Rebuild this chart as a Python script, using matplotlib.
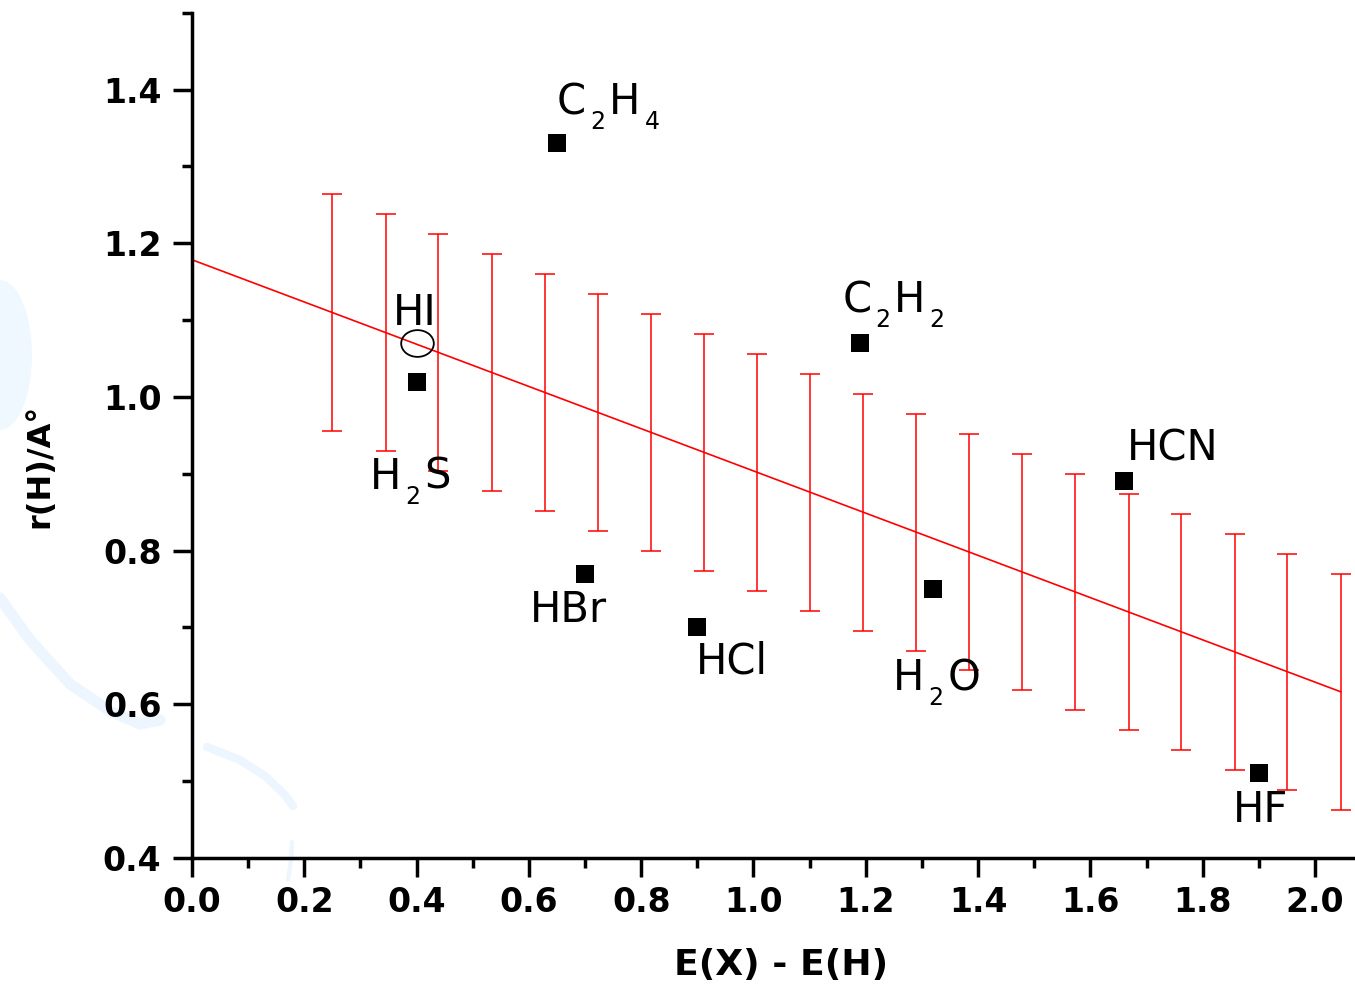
import matplotlib
matplotlib.use("Agg")
import matplotlib.pyplot as plt
from matplotlib.ticker import MultipleLocator, FormatStrFormatter
from matplotlib.lines import Line2D
from matplotlib.patches import Ellipse
from matplotlib.path import Path
import numpy as np

# ---------------- data ----------------
filled_names = ['C2H4', 'H2S', 'HBr', 'HCl', 'C2H2', 'H2O', 'HCN', 'HF']
filled_x = [0.65, 0.40, 0.70, 0.90, 1.19, 1.32, 1.66, 1.90]
filled_y = [1.33, 1.02, 0.77, 0.70, 1.07, 0.75, 0.89, 0.51]

open_names = ['HI']
open_x = [0.40]
open_y = [1.07]

# fitted line
fit_intercept = 1.1785
fit_slope = -0.2748
fit_x_range = [0.0, 2.046]

# error bars along the fit
err_x = [0.250, 0.345, 0.439, 0.534, 0.628, 0.723, 0.817, 0.912, 1.006, 1.101,
         1.195, 1.290, 1.384, 1.479, 1.573, 1.668, 1.762, 1.857, 1.951, 2.046]
err_y = [1.110, 1.084, 1.058, 1.032, 1.006, 0.980, 0.954, 0.928, 0.902, 0.876,
         0.850, 0.824, 0.798, 0.772, 0.746, 0.720, 0.694, 0.668, 0.642, 0.616]
err_half = 0.154

# label text pieces: (text, is_subscript)
label_pieces = {
    'C2H4': [('C', False), ('2', True), ('H', False), ('4', True)],
    'C2H2': [('C', False), ('2', True), ('H', False), ('2', True)],
    'HI':   [('HI', False)],
    'H2S':  [('H', False), ('2', True), ('S', False)],
    'HBr':  [('HBr', False)],
    'HCl':  [('HCl', False)],
    'H2O':  [('H', False), ('2', True), ('O', False)],
    'HCN':  [('HCN', False)],
    'HF':   [('HF', False)],
}

x_ticks = [0.0, 0.2, 0.4, 0.6, 0.8, 1.0, 1.2, 1.4, 1.6, 1.8, 2.0]
y_ticks = [0.4, 0.6, 0.8, 1.0, 1.2, 1.4]

# ---------------- layout / style ----------------
W, H = 1355, 992
# label offsets from marker centre, in pixels (dx right, dy down to baseline)
label_offsets = {
    'C2H4': (0, -29), 'C2H2': (-18, -31), 'HI': (-24, -18), 'H2S': (-47, 107),
    'HBr': (-55, 48), 'HCl': (-1, 46), 'H2O': (-40, 101), 'HCN': (3, -21),
    'HF': (-26, 49),
}
SUB_SHIFT = 15
GAP = 4
MAIN_FS = 30
SUB_FS = 17

plt.rcParams['font.family'] = ['DejaVu Sans']

fig = plt.figure(figsize=(W / 100, H / 100), dpi=100)
fig.patch.set_facecolor('white')


def px(x, y):
    return (x / W, 1 - y / H)


# faint background watermark
wm = '#EDF6FF'
blob = Ellipse(px(0, 355), 2 * 32 / W, 2 * 75 / H, transform=fig.transFigure,
               facecolor='#F0F8FF', edgecolor='none', zorder=-1)
fig.patches.append(blob)
for pts, lw in [
    ([(0, 598), (30, 640), (70, 684), (110, 711), (140, 724), (160, 720)], 8),
    ([(207, 747), (240, 760), (265, 776), (285, 795), (293, 806)], 6),
    ([(292, 842), (291, 860), (288, 880)], 3),
]:
    xs = [px(*p)[0] for p in pts]
    ys = [px(*p)[1] for p in pts]
    fig.lines.append(Line2D(xs, ys, transform=fig.transFigure, color=wm,
                            linewidth=lw, solid_capstyle='round', zorder=-1))

left = 192 / W
bottom = 1 - 858 / H
top = 1 - 12.7 / H
ax = fig.add_axes([left, bottom, 1 - left, top - bottom])
ax.patch.set_alpha(0)
ax.set_xlim(0, 2.0713)
ax.set_ylim(0.4, 1.5)

for s in ['top', 'right']:
    ax.spines[s].set_visible(False)
for s in ['left', 'bottom']:
    ax.spines[s].set_linewidth(2.5)

ax.set_xticks(x_ticks)
ax.set_yticks(y_ticks)
ax.xaxis.set_minor_locator(MultipleLocator(0.1))
ax.yaxis.set_minor_locator(MultipleLocator(0.1))
ax.xaxis.set_major_formatter(FormatStrFormatter('%.1f'))
ax.yaxis.set_major_formatter(FormatStrFormatter('%.1f'))
ax.tick_params(which='major', direction='out', length=14, width=2.5,
               labelsize=23.8)
ax.tick_params(which='minor', direction='out', length=7, width=2.5)
ax.tick_params(axis='x', which='major', pad=6)
ax.tick_params(axis='y', which='major', pad=8)
for lab in ax.get_xticklabels() + ax.get_yticklabels():
    lab.set_fontweight('bold')

# fit line
fx = np.array(fit_x_range)
ax.plot(fx, fit_intercept + fit_slope * fx, color='#FF0000', linewidth=1.2,
        zorder=2, clip_on=False)

# error bars
ax.errorbar(err_x, err_y, yerr=err_half, fmt='none', ecolor='#FF0000',
            elinewidth=1.1, capsize=7.2, capthick=1.1, zorder=2)

# filled squares
ax.plot(filled_x, filled_y, linestyle='none', marker='s', markersize=13,
        markerfacecolor='black', markeredgewidth=0, zorder=4)

# open (slightly flattened) circle
circ = Path.unit_circle()
ell = Path(circ.vertices * np.array([1.0, 0.82]), circ.codes)
ax.plot(open_x, open_y, linestyle='none', marker=ell, markersize=23.5,
        markerfacecolor='none', markeredgecolor='black', markeredgewidth=1.3,
        zorder=4)

# labels
renderer = fig.canvas.get_renderer()


def place_label(x, y, name):
    dx, dy = label_offsets[name]
    cur = dx
    for text, sub in label_pieces[name]:
        off_y = -(dy + (SUB_SHIFT if sub else 0))
        t = ax.annotate(text, (x, y), xytext=(cur, off_y),
                        textcoords='offset pixels', ha='left', va='baseline',
                        fontsize=SUB_FS if sub else MAIN_FS, color='black',
                        zorder=5)
        w = t.get_window_extent(renderer).width
        cur += w + GAP


for n, x, y in zip(filled_names, filled_x, filled_y):
    place_label(x, y, n)
for n, x, y in zip(open_names, open_x, open_y):
    place_label(x, y, n)

# axis titles
fig.text(781 / W, 1 - 975 / H, 'E(X) - E(H)', ha='center', va='baseline',
         fontsize=26, fontweight='bold')
fig.text(40 / W, 1 - 466 / H, 'r(H)/A°', ha='center', va='center',
         rotation=90, fontsize=23, fontweight='bold')

fig.savefig('out.png', dpi=100)
